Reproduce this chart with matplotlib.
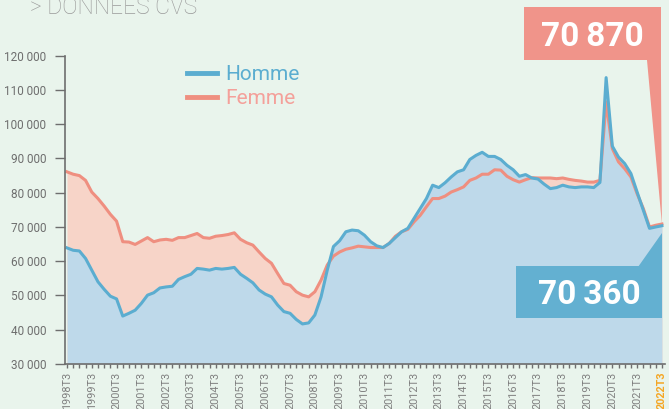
import numpy as np
import matplotlib
matplotlib.use('Agg')
import matplotlib.pyplot as plt
from matplotlib.patches import Polygon
from matplotlib.transforms import IdentityTransform

# demandeurs par trimestre, 1998T3 -> 2022T3 (donnees CVS)
homme = [63900, 63200, 63000, 60800, 57400, 54000, 51800, 49800, 49000, 44000,
         44800, 45700, 47700, 50100, 50800, 52200, 52500, 52700, 54700, 55500,
         56200, 57900, 57700, 57400, 57900, 57700, 57900, 58200, 56200, 55000,
         53700, 51600, 50400, 49600, 47200, 45300, 44800, 43000, 41700, 42000,
         44300, 49600, 57400, 64300, 66000, 68600, 69100, 68900, 67600, 65700,
         64500, 64000, 65200, 66900, 68600, 69600, 72500, 75400, 78300, 82200,
         81500, 82900, 84600, 86100, 86700, 89700, 90900, 91800, 90600, 90600,
         89700, 88000, 86700, 84800, 85300, 84300, 84000, 82500, 81200, 81500,
         82200, 81700, 81500, 81700, 81700, 81500, 83000, 113600, 93600, 90400,
         88500, 85600, 80200, 74900, 69600, 70000, 70360]
femme = [86100, 85400, 85000, 83600, 80200, 78300, 76100, 73700, 71700, 65700,
         65600, 64900, 65900, 66900, 65700, 66200, 66400, 66100, 66900, 66900,
         67500, 68100, 66900, 66700, 67300, 67500, 67800, 68300, 66400, 65400,
         64700, 62700, 60800, 59400, 56400, 53500, 53000, 51100, 50100, 49600,
         51100, 54500, 58900, 61500, 62700, 63500, 63900, 64400, 64200, 64000,
         64000, 64000, 65200, 67300, 68600, 69300, 71500, 73400, 75900, 78300,
         78300, 79000, 80200, 80900, 81700, 83600, 84300, 85400, 85400, 86700,
         86600, 84800, 83800, 83100, 83800, 84400, 84300, 84300, 84300, 84100,
         84300, 83900, 83600, 83400, 83100, 83100, 83600, 106500, 92900, 89000,
         87000, 84600, 79700, 75400, 70000, 70500, 70870]
annees = list(range(1998, 2023))
trimestres = ['{}T3'.format(a) for a in annees]
yticks = [30000, 40000, 50000, 60000, 70000, 80000, 90000, 100000, 110000, 120000]

bg = '#e9f4ec'
c_h, c_f = '#5badd0', '#ef8f80'
fill_h, fill_f = '#bed9ea', '#f7d4c8'
grey = '#6e6e6e'
plt.rcParams['font.family'] = ['Roboto', 'DejaVu Sans']

x = np.arange(len(homme))
fig = plt.figure(figsize=(6.69, 4.09), dpi=100, facecolor=bg)
ax = fig.add_axes([65/669, 45/409, 600/669, 308.3/409])
ax.set_facecolor(bg)

ax.fill_between(x, 30000, femme, color=fill_f, lw=0)
ax.fill_between(x, 30000, homme, color=fill_h, lw=0)
ax.plot(x, femme, color=c_f, lw=2.2, label='Femme', solid_joinstyle='round')
ax.plot(x, homme, color=c_h, lw=2.2, label='Homme', solid_joinstyle='round')

ax.set_xlim(-0.32, 96.5)
ax.set_ylim(30000, 120000)
for s in ['top', 'right']:
    ax.spines[s].set_visible(False)
for s in ['left', 'bottom']:
    ax.spines[s].set_color(grey)
    ax.spines[s].set_linewidth(1.2)

ax.set_yticks(yticks)
ax.set_yticklabels(['{:,}'.format(v).replace(',', ' ') for v in yticks])
ax.tick_params(axis='y', length=7, width=1, color=grey, pad=6.5,
               labelsize=8.5, labelcolor=grey)
ax.set_xticks(x[::4])
ax.set_xticks(x, minor=True)
ax.set_xticklabels(trimestres, rotation=90)
ax.tick_params(axis='x', which='both', length=3, width=1, color=grey, pad=2.5,
               labelsize=7.8, labelcolor='#808080')
last = ax.get_xticklabels()[-1]
last.set_color('#f5a623')
last.set_fontweight('bold')

# legende
handles, labels = ax.get_legend_handles_labels()
leg = ax.legend(handles[::-1], labels[::-1], loc='upper left',
                bbox_to_anchor=(187/669, 1 - 65/409), bbox_transform=fig.transFigure,
                frameon=False, fontsize=15, handlelength=1.45, handletextpad=0.4,
                labelspacing=0.25, borderpad=0, borderaxespad=0,
                labelcolor=[c_h, '#f4a09a'])
for l in leg.get_lines():
    l.set_linewidth(3.5)

# titre coupe en haut
fig.text(30/669, 1 - 14.5/409, '> DONNEES CVS', fontsize=16.5, color='#9a9a9a',
         fontweight='light', va='baseline', ha='left')

# bulles avec les dernieres valeurs
fig.canvas.draw()
def bulle(val, color, box, wedge, tip_dy):
    tx, ty = ax.transData.transform((x[-1], val))
    ty = ty + tip_dy
    x0, x1, y0, y1 = box
    rect = Polygon([(tx + x0, ty + y0), (tx + x1, ty + y0), (tx + x1, ty + y1), (tx + x0, ty + y1)],
                   closed=True, color=color, transform=IdentityTransform(), lw=0)
    tri = Polygon([(tx + wedge[0], ty + wedge[2]), (tx + wedge[1], ty + wedge[2]), (tx, ty)],
                  closed=True, color=color, transform=IdentityTransform(), lw=0)
    fig.add_artist(tri)
    fig.add_artist(rect)
    fig.text((tx + (x0 + x1) / 2) / 669, (ty + (y0 + y1) / 2) / 409,
             '{:,}'.format(val).replace(',', '\u2009'), color='white', fontsize=24,
             fontweight='bold', ha='center', va='center_baseline')

bulle(femme[-1], '#f0948a', (-138, -1, 164, 217), (-15, -1, 165), 0)
bulle(homme[-1], '#63b0d1', (-146, 0, -85, -33), (-24, 0, -34), -7)

fig.savefig('out.png', dpi=100, facecolor=bg)
